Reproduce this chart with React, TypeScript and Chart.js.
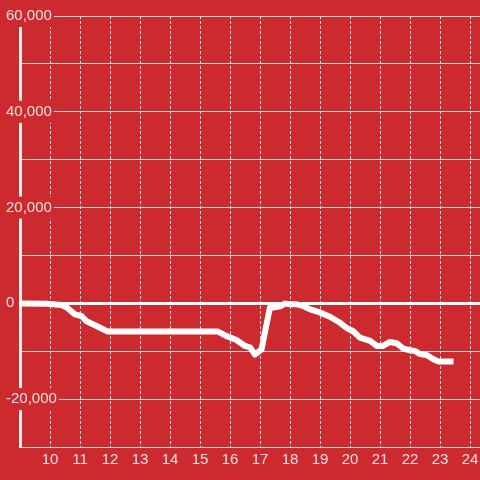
import React, { useEffect, useRef } from "react";
import { Chart, registerables } from "chart.js";

Chart.register(...registerables);

// Hours of the day (x) and running values (y)
const hours = [
  8.9, 9.9, 10.38, 10.55, 10.83, 11.05, 11.22, 11.5, 11.77, 11.93,
  15.6, 15.87, 16.2, 16.5, 16.67, 16.83, 17.05, 17.33, 17.43, 17.67,
  17.83, 18.0, 18.22, 18.4, 18.67, 19.0, 19.33, 19.67, 19.9, 20.1,
  20.33, 20.67, 20.9, 21.1, 21.33, 21.55, 21.78, 22.0, 22.17, 22.33,
  22.55, 22.78, 22.95, 23.45,
];
const values = [
  0, -100, -350, -830, -2300, -2650, -3750, -4580, -5420, -5900,
  -5900, -6800, -7600, -8900, -9200, -10700, -9600, -900, -900, -630,
  -60, -200, -200, -480, -1250, -1900, -2800, -4060, -5200, -5770,
  -7150, -7850, -8900, -8900, -8060, -8330, -9440, -9800, -9940, -10600,
  -10770, -11670, -12150, -12150,
];
const xTickHours = [10, 11, 12, 13, 14, 15, 16, 17, 18, 19, 20, 21, 22, 23, 24];
const yLabeledTicks = [60000, 40000, 20000, 0, -20000];

const RED = "#cc2a2e";
const FONT = "'Liberation Sans', Arial, sans-serif";

export default function App() {
  const ref = useRef<HTMLCanvasElement | null>(null);

  useEffect(() => {
    if (!ref.current) return;
    const chart = new Chart(ref.current, {
      type: "line",
      data: {
        datasets: [
          {
            data: hours.map((h, i) => ({ x: h, y: values[i] })),
            borderColor: "#ffffff",
            borderWidth: 6,
            pointRadius: 0,
            tension: 0,
            borderJoinStyle: "round",
            fill: false,
          },
        ],
      },
      options: {
        responsive: false,
        animation: false,
        layout: { padding: { left: 20, top: 16, right: 0, bottom: 7 } },
        plugins: { legend: { display: false }, tooltip: { enabled: false } },
        scales: {
          x: {
            type: "linear",
            min: 9,
            max: 24.3333,
            afterBuildTicks: (s: any) => {
              s.ticks = xTickHours.map((v) => ({ value: v }));
            },
            afterFit: (s: any) => {
              s.paddingRight = 0;
              s.paddingLeft = 0;
            },
            grid: { color: "#e2dede", lineWidth: 1, drawTicks: false },
            border: { color: "#d4d4d4", width: 1, dash: [3, 2] },
            ticks: {
              color: "rgba(255,255,255,0.85)",
              font: { size: 15, family: FONT },
              padding: 4,
              maxRotation: 0,
              autoSkip: false,
              callback: (v: any) => String(v),
            },
          },
          y: {
            type: "linear",
            min: -30000,
            max: 60000,
            afterFit: (s: any) => {
              s.width = 0;
            },
            grid: {
              drawTicks: false,
              color: (c: any) => (c.tick && c.tick.value === 0 ? "#ffffff" : "#d4d4d4"),
              lineWidth: (c: any) => (c.tick && c.tick.value === 0 ? 3 : 1),
            },
            border: { color: "#f4f0f0", width: 3 },
            ticks: {
              stepSize: 10000,
              mirror: true,
              padding: -14,
              color: "rgba(255,255,255,0.85)",
              font: { size: 15, family: FONT },
              showLabelBackdrop: true,
              backdropColor: RED,
              backdropPadding: 2,
              callback: (v: any) =>
                yLabeledTicks.includes(Number(v)) ? Number(v).toLocaleString("en-US") : "",
            },
          },
        },
      },
    } as any);
    return () => chart.destroy();
  }, []);

  return (
    <canvas
      ref={ref}
      width={480}
      height={480}
      style={{ position: "fixed", left: 0, top: 0, width: 480, height: 480, background: RED }}
    />
  );
}
